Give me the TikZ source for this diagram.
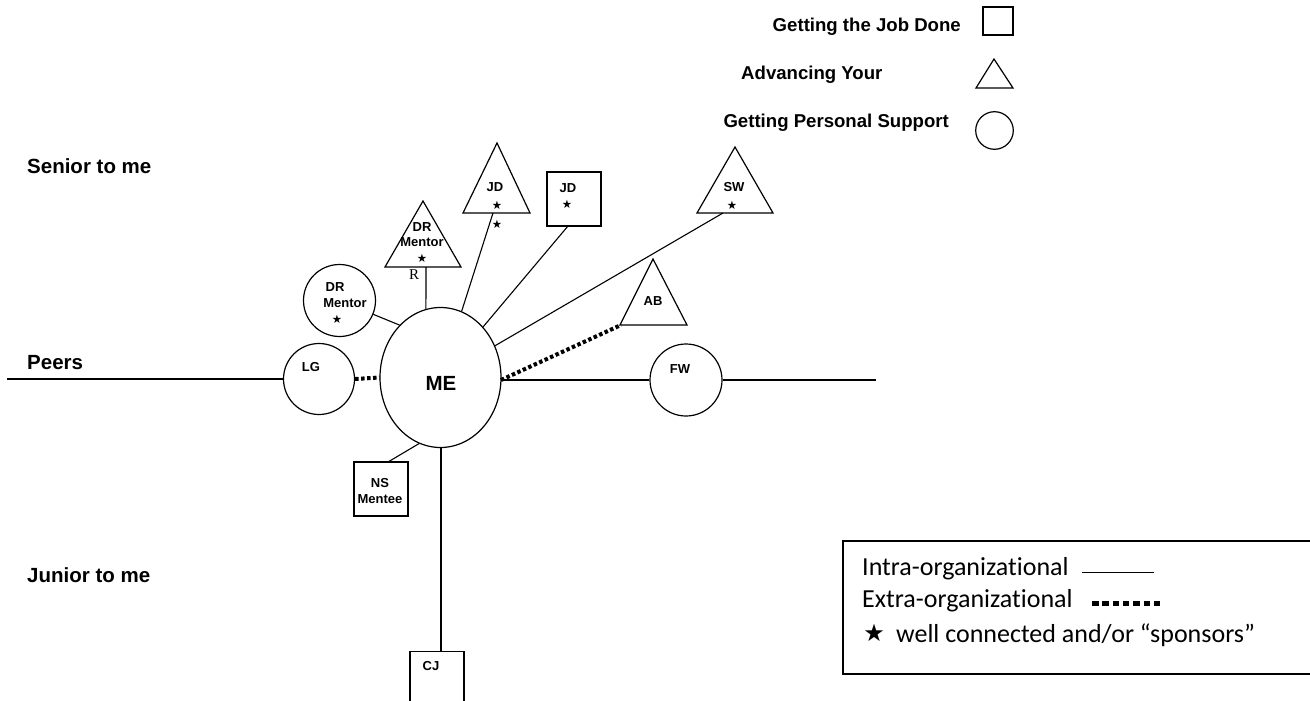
\documentclass[tikz,border=0pt]{standalone}
\usepackage{fontspec}
\setmainfont{Liberation Sans}
\newfontfamily\calfont[Ligatures=NoCommon]{Carlito}
\newfontfamily\serfont{Liberation Serif}
\newfontfamily\symfont{DejaVu Sans}
\usetikzlibrary{shapes.geometric}
\begin{document}
\begin{tikzpicture}[x=1pt,y=-1pt,
 shp/.style={draw, line width=1.2pt, inner sep=0pt},
 intra/.style={line width=1.1pt},
 extra/.style={line width=4pt, dash pattern=on 3.5pt off 2.5pt},
 nt/.style={font=\fontsize{13}{14}\selectfont\bfseries, inner sep=0pt},
 st/.style={font=\fontsize{11.5}{12}\selectfont\symfont, inner sep=0pt},
 ax/.style={font=\fontsize{20.5}{22}\selectfont\bfseries, inner sep=0pt, anchor=base west},
 lgt/.style={font=\fontsize{18.6}{20}\selectfont\bfseries, inner sep=0pt},
 bx/.style={font=\fontsize{26}{28}\selectfont\calfont, inner sep=0pt, anchor=base west}]
\useasboundingbox (0,0) rectangle (1310,701);
\clip (0,0) rectangle (1310,701);

% axis labels
\node[ax] (senior) at (27,173) {Senior to me};
\node[ax] (peers) at (27,369) {Peers};
\node[ax] (junior) at (27,582) {Junior to me};

% top legend
\node[lgt, anchor=base east] (lg1) at (961,32) {Getting the Job Done};
\node[lgt, anchor=base west] (lg2) at (741,80) {Advancing Your};
\node[lgt, anchor=base east] (lg3) at (949,127) {Getting Personal Support};
\node[shp, rectangle, minimum width=30pt, minimum height=28pt] (lsq) at (998,21) {};
\draw[line width=1.2pt] (976,88) -- (994,59) -- (1013,88) -- cycle;
\node[shp, circle, minimum size=37.6pt] (lci) at (994.5,130.5) {};

% ME
\node[shp, ellipse, minimum width=121pt, minimum height=140pt] (ME) at (440.5,377.5) {};
\node[font=\fontsize{20.5}{22}\selectfont\bfseries, inner sep=0pt] (MEt) at (441,383) {ME};

% LG and FW
\node[shp, circle, minimum size=71pt] (LG) at (319,379) {};
\node[nt] (LGt) at (311,367) {LG};
\node[shp, circle, minimum size=72pt] (FW) at (686,380) {};
\node[nt] (FWt) at (680,369) {FW};

% peers line
\coordinate (pl) at (7,379);
\coordinate (pr) at (876,380);
\coordinate (MEr) at (501,380);
\draw[intra] (pl) -- (LG.west);
\draw[intra] (FW.east) -- (pr);
\draw[extra] (LG.east) -- (ME.west);
\draw[line width=1.6pt] (MEr) -- (FW.west);

% DR Mentor circle
\node[shp, circle, minimum size=72pt] (DRc) at (339.5,300.5) {};
\node[nt] (DRc1) at (335,287) {DR};
\node[nt] (DRc2) at (345,303) {Mentor};
\node[st] (DRc3) at (337,319) {★};
\draw[intra] (DRc) -- (ME.128);

% DR Mentor triangle
\draw[line width=1.2pt] (385,267) -- (423,201) -- (461,267) -- cycle;
\coordinate (DRtb) at (426,267);
\node[nt] (DRt1) at (422,227) {DR};
\node[nt] (DRt2) at (422,242) {Mentor};
\node[st] (DRt3) at (422,258) {★};
\node[font=\fontsize{15}{16}\selectfont\serfont, inner sep=0pt] (R) at (414,275) {R};
\draw[intra] (DRtb) -- (ME.102);

% JD triangle
\draw[line width=1.2pt] (463,213) -- (497,143) -- (530,213) -- cycle;
\coordinate (JDtb) at (493,213);
\node[nt] (JDt1) at (495,187) {JD};
\node[st] (JDt2) at (497,205) {★};
\node[st] (JDt3) at (497,224) {★};
\draw[intra] (JDtb) -- (ME);

% JD square
\node[shp, rectangle, minimum width=54pt, minimum height=54pt] (JDs) at (574,199) {};
\coordinate (JDsb) at (568,226);
\node[nt] (JDs1) at (568,188) {JD};
\node[st] (JDs2) at (567,204) {★};
\draw[intra] (JDsb) -- (ME);

% SW triangle
\draw[line width=1.2pt] (697,213) -- (735,147) -- (773,213) -- cycle;
\coordinate (SWb) at (723,213);
\node[nt] (SW1) at (734,187) {SW};
\node[st] (SW2) at (732,205) {★};
\draw[intra] (SWb) -- (ME);

% AB triangle
\draw[line width=1.2pt] (620,325) -- (653,259) -- (687,325) -- cycle;
\coordinate (ABb) at (621,325);
\node[nt] (AB1) at (653,301) {AB};
\draw[extra] (MEr) -- (ABb);

% NS Mentee
\node[shp, rectangle, minimum width=54pt, minimum height=54pt] (NS) at (381,489) {};
\node[nt] (NS1) at (380,483) {NS};
\node[nt] (NS2) at (380,499) {Mentee};
\coordinate (NSt) at (388,462);
\draw[intra] (NSt) -- (ME.252);

% CJ
\node[shp, rectangle, minimum width=54pt, minimum height=60pt, anchor=north] (CJ) at (437,651) {};
\node[nt] (CJt) at (431,666) {CJ};
\coordinate (CJt0) at (441,651);
\draw[intra] (ME.south -| CJt0) -- (CJt0);

% bottom legend box
\node[draw, line width=1.5pt, rectangle, minimum width=468pt, minimum height=133pt, anchor=north west, inner sep=0pt] (box) at (842,540) {};
\node[bx] (b1) at (862,575) {Intra-organizational};
\node[bx] (b2) at (862,607) {Extra-organizational};
\node[font=\fontsize{24}{26}\selectfont\symfont, inner sep=0pt] (b3s) at (874,633) {★};
\node[bx] (b3) at (896,642) {well connected and/or “sponsors”};
\coordinate (i1) at (1082,572);
\coordinate (i2) at (1154,572);
\draw[line width=1pt] (i1) -- (i2);
\coordinate (e1) at (1092,603);
\coordinate (e2) at (1160,603);
\draw[line width=5pt, dash pattern=on 6.5pt off 3.8pt] (e1) -- (e2);
\end{tikzpicture}
\end{document}
